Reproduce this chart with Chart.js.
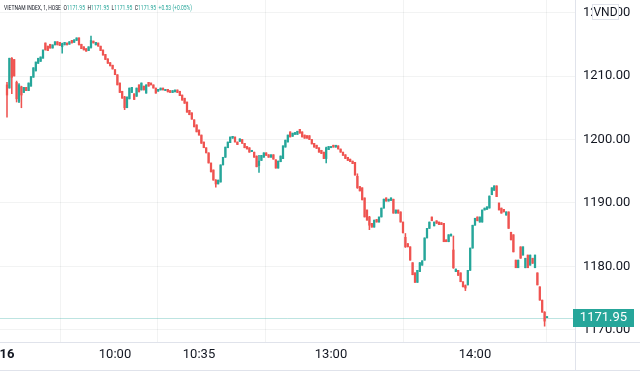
<!DOCTYPE html>
<html>
<head>
<meta charset="utf-8">
<script src="https://cdn.jsdelivr.net/npm/chart.js@4.4.1/dist/chart.umd.min.js"></script>
<style>
  html, body { margin: 0; padding: 0; background: #fff; }
  #wrap { width: 640px; height: 371px; position: relative; }
</style>
</head>
<body>
<div id="wrap"><canvas id="myChart"></canvas></div>
<script>
// trading sessions, one candle per minute
const sessions = [['09:15', '11:29'], ['13:00', '14:30']];

const opens = [
  1208.6, 1208.1, 1212.8, 1212.6, 1209.0, 1206.0, 1208.3, 1207.4, 1208.2, 1207.7,
  1208.4, 1209.8, 1210.8, 1212.0, 1212.3, 1212.8, 1215.2, 1214.7, 1215.0, 1214.4,
  1214.9, 1215.4, 1215.3, 1214.6, 1214.9, 1215.2, 1215.0, 1215.6, 1215.3, 1215.6,
  1216.0, 1215.0, 1214.6, 1214.3, 1214.0, 1214.5, 1215.5, 1214.9, 1215.2, 1214.7,
  1214.1, 1213.4, 1212.7, 1212.1, 1211.7, 1211.0, 1210.2, 1208.9, 1207.6, 1206.7,
  1205.0, 1206.4, 1207.4, 1207.2, 1206.8, 1208.6, 1207.8, 1208.4, 1207.3, 1209.0,
  1208.9, 1208.6, 1208.1, 1207.6, 1207.8, 1208.1, 1207.7, 1207.9, 1207.7, 1207.4,
  1207.5, 1207.8, 1207.6, 1207.0, 1206.5, 1205.9, 1204.6, 1204.2, 1203.1, 1202.3,
  1201.5, 1200.7, 1199.6, 1198.7, 1197.9, 1196.3, 1195.2, 1193.6, 1193.0, 1193.3,
  1196.0, 1197.2, 1198.7, 1199.5, 1200.2, 1200.4, 1199.6, 1199.7, 1200.0, 1199.4,
  1198.9, 1198.7, 1198.1, 1198.0, 1197.4, 1195.9, 1196.7, 1197.2, 1197.9, 1197.6,
  1197.2, 1197.6, 1196.8, 1195.5, 1196.5, 1197.0, 1198.8, 1199.6, 1201.2, 1200.5,
  1200.8, 1200.8, 1201.6, 1201.2, 1200.7, 1200.6, 1200.6, 1200.0, 1199.4, 1199.1,
  1198.7, 1198.3, 1198.0, 1197.0, 1198.4, 1198.7, 1199.1, 1198.8, 1199.0, 1198.5,
  1198.0, 1197.6, 1197.2, 1196.9, 1196.6, 1196.4, 1194.2, 1192.6, 1192.4, 1190.8,
  1188.9, 1187.8, 1186.8, 1186.2, 1187.4, 1187.0, 1187.8, 1189.2, 1190.8, 1190.3,
  1190.4, 1190.6, 1188.4, 1188.9, 1188.6, 1187.0, 1184.6, 1183.6, 1183.1, 1180.6,
  1179.0, 1177.5, 1179.2, 1180.2, 1181.0, 1184.5, 1186.0, 1187.8, 1186.4, 1187.2,
  1187.0, 1186.9, 1186.8, 1184.2, 1183.9, 1184.8, 1182.6, 1179.2, 1179.4, 1179.0,
  1177.6, 1177.0, 1177.1, 1179.4, 1182.9, 1186.5, 1187.8, 1187.0, 1187.0, 1188.9,
  1189.0, 1189.2, 1191.3, 1192.0, 1192.7, 1190.0, 1189.2, 1189.0, 1188.1, 1188.6,
  1185.4, 1185.0, 1181.0, 1179.8, 1183.1, 1181.8, 1179.8, 1181.8, 1180.2, 1181.3,
  1179.8, 1179.0, 1176.8, 1174.7, 1172.8, 1171.95
];

const closes = [
  1207.0, 1212.8, 1209.8, 1210.0, 1206.4, 1208.6, 1207.0, 1208.2, 1207.7, 1208.9,
  1209.9, 1211.3, 1212.2, 1212.8, 1213.0, 1214.1, 1214.1, 1214.0, 1214.4, 1214.9,
  1215.4, 1214.9, 1214.8, 1215.1, 1215.3, 1214.9, 1215.4, 1215.2, 1215.7, 1216.0,
  1214.9, 1214.3, 1214.1, 1213.9, 1214.6, 1215.6, 1215.2, 1215.3, 1214.7, 1214.0,
  1213.3, 1212.6, 1212.0, 1211.6, 1211.1, 1210.2, 1208.6, 1207.4, 1206.5, 1205.0,
  1206.7, 1208.1, 1208.2, 1206.3, 1208.1, 1207.5, 1208.9, 1207.8, 1208.6, 1208.4,
  1208.6, 1208.1, 1207.3, 1207.9, 1208.1, 1207.8, 1207.9, 1207.5, 1207.4, 1207.7,
  1207.8, 1207.4, 1206.9, 1206.2, 1205.7, 1204.3, 1203.9, 1203.2, 1202.0, 1201.2,
  1200.7, 1199.4, 1198.7, 1197.9, 1196.3, 1194.9, 1193.6, 1193.0, 1193.6, 1196.0,
  1197.2, 1198.8, 1199.6, 1200.4, 1200.5, 1199.6, 1199.2, 1200.1, 1199.4, 1198.7,
  1198.5, 1198.0, 1198.3, 1197.2, 1195.7, 1196.6, 1197.5, 1197.9, 1197.5, 1197.2,
  1197.6, 1196.9, 1195.5, 1196.6, 1197.4, 1199.0, 1199.9, 1200.7, 1200.4, 1201.0,
  1201.1, 1201.3, 1201.0, 1200.4, 1200.2, 1200.2, 1200.0, 1199.3, 1198.8, 1198.6,
  1198.0, 1197.8, 1197.0, 1198.7, 1198.9, 1198.9, 1198.8, 1199.1, 1198.5, 1198.0,
  1197.5, 1197.0, 1196.7, 1196.5, 1196.2, 1194.4, 1192.4, 1191.9, 1190.5, 1187.8,
  1187.3, 1186.5, 1186.2, 1187.3, 1187.0, 1187.8, 1189.2, 1190.6, 1190.3, 1190.6,
  1190.8, 1188.4, 1188.9, 1188.4, 1187.0, 1185.3, 1183.1, 1183.1, 1181.0, 1178.7,
  1177.5, 1179.4, 1180.6, 1180.9, 1184.5, 1186.0, 1187.0, 1187.2, 1187.0, 1186.8,
  1186.6, 1186.6, 1183.9, 1183.9, 1185.0, 1185.1, 1179.8, 1179.6, 1178.6, 1177.6,
  1176.8, 1176.6, 1179.4, 1182.9, 1186.5, 1187.6, 1187.2, 1187.8, 1188.9, 1189.2,
  1189.4, 1191.1, 1192.4, 1192.7, 1191.0, 1188.9, 1188.4, 1188.6, 1188.6, 1186.0,
  1184.2, 1182.3, 1179.8, 1181.0, 1181.3, 1183.1, 1181.3, 1179.8, 1181.8, 1180.5,
  1181.8, 1177.1, 1174.7, 1172.8, 1171.4, 1171.95
];

// candles with a visible shadow: [index, low, high]
const wicks = [
  [0, 1203.5, 1209.0], [2, 1207.2, 1212.9], [4, 1205.9, 1209.2], [5, 1205.8, 1208.8],
  [6, 1205.0, 1208.4], [23, 1213.6, 1215.2], [35, 1214.4, 1216.3], [49, 1204.7, 1206.8],
  [87, 1192.5, 1193.7], [105, 1194.8, 1197.5], [133, 1196.3, 1198.8], [146, 1192.3, 1194.6],
  [151, 1185.8, 1187.9], [166, 1183.0, 1185.2], [186, 1179.7, 1184.8], [191, 1176.2, 1177.1],
  [224, 1170.6, 1172.9]
];

const yTicks = [1170, 1180, 1190, 1200, 1210, 1220];
const tickTimes = ['09:15', '10:00', '10:35', '13:00', '14:00'];
const tickLabels = ['16', '10:00', '10:35', '13:00', '14:00'];
const lastPrice = 1171.95;
const headerParts = [
  ['VIETNAM INDEX, 1, HOSE  ', '#131722'],
  ['O', '#131722'], ['1171.95  ', '#26a69a'],
  ['H', '#131722'], ['1171.95  ', '#26a69a'],
  ['L', '#131722'], ['1171.95  ', '#26a69a'],
  ['C', '#131722'], ['1171.95  ', '#26a69a'],
  ['+0.53 (+0.05%)', '#26a69a']
];

const upColor = '#26a69a';
const downColor = '#ef5350';
const fontFamily = 'Roboto, "DejaVu Sans", sans-serif';

function toMinutes(t) {
    const [h, m] = t.split(':').map(Number);
    return h * 60 + m;
}

const times = [];
sessions.forEach(([from, to]) => {
    for (let m = toMinutes(from); m <= toMinutes(to); m++) {
        times.push(String(Math.floor(m / 60)).padStart(2, '0') + ':' + String(m % 60).padStart(2, '0'));
    }
});

const tickIndex = tickTimes.map(t => times.indexOf(t));

const lows = opens.map((o, i) => Math.min(o, closes[i]));
const highs = opens.map((o, i) => Math.max(o, closes[i]));
wicks.forEach(([i, lo, hi]) => { lows[i] = lo; highs[i] = hi; });

const colors = opens.map((o, i) => closes[i] >= o ? upColor : downColor);

const overlay = {
    id: 'overlay',
    beforeDatasetsDraw(chart) {
        const { ctx, chartArea } = chart;
        const y = Math.round(chart.scales.y.getPixelForValue(lastPrice)) + 0.5;
        ctx.save();
        ctx.strokeStyle = 'rgba(38,166,154,0.3)';
        ctx.lineWidth = 1;
        ctx.beginPath();
        ctx.moveTo(chartArea.left, y);
        ctx.lineTo(chartArea.right, y);
        ctx.stroke();
        ctx.restore();
    },
    afterDraw(chart) {
        const { ctx, chartArea } = chart;
        ctx.save();

        // pane separators
        ctx.strokeStyle = '#e0e3eb';
        ctx.lineWidth = 1;
        ctx.beginPath();
        ctx.moveTo(chartArea.right + 0.5, 0);
        ctx.lineTo(chartArea.right + 0.5, 371);
        ctx.moveTo(0, chartArea.bottom + 0.5);
        ctx.lineTo(640, chartArea.bottom + 0.5);
        ctx.moveTo(0, 370.5);
        ctx.lineTo(640, 370.5);
        ctx.stroke();

        // legend line
        ctx.font = '7px ' + fontFamily;
        ctx.textBaseline = 'middle';
        ctx.textAlign = 'left';
        const total = headerParts.reduce((w, p) => w + ctx.measureText(p[0]).width, 0);
        ctx.save();
        ctx.translate(4, 8);
        ctx.scale(188 / total, 1);
        let x = 0;
        headerParts.forEach(([text, color]) => {
            ctx.fillStyle = color;
            ctx.fillText(text, x, 0);
            x += ctx.measureText(text).width;
        });
        ctx.restore();

        // currency box
        ctx.fillStyle = '#ffffff';
        ctx.fillRect(592, 4, 27, 16);
        ctx.strokeStyle = '#e0e3eb';
        ctx.strokeRect(592.5, 4.5, 26, 15);
        ctx.fillStyle = '#131722';
        ctx.font = '12px ' + fontFamily;
        ctx.textAlign = 'center';
        ctx.fillText('VND', 605.5, 12.5);

        // last price label
        const py = chart.scales.y.getPixelForValue(lastPrice);
        ctx.fillStyle = '#26a69a';
        ctx.fillRect(573, Math.round(py) - 9, 61, 18);
        ctx.fillStyle = '#ffffff';
        ctx.font = '13px ' + fontFamily;
        ctx.fillText(lastPrice.toFixed(2), 603.5, py + 0.5);
        ctx.restore();
    }
};

const ctx = document.getElementById('myChart').getContext('2d');
const myChart = new Chart(ctx, {
    type: 'bar',
    data: {
        datasets: [{
            label: 'shadow',
            data: opens.map((o, i) => ({ x: i, y: [lows[i], highs[i]] })),
            backgroundColor: colors,
            barThickness: 0.9,
            minBarLength: 1,
            grouped: false,
            order: 2
        }, {
            label: 'body',
            data: opens.map((o, i) => ({ x: i, y: [o, closes[i]] })),
            backgroundColor: colors,
            barThickness: 1.6,
            minBarLength: 1,
            grouped: false,
            order: 1
        }]
    },
    options: {
        responsive: true,
        maintainAspectRatio: false,
        animation: false,
        layout: { padding: 0 },
        plugins: {
            legend: { display: false },
            tooltip: { enabled: false }
        },
        scales: {
            x: {
                type: 'linear',
                offset: false,
                min: -7 / 2.4,
                max: 568 / 2.4,
                afterBuildTicks: scale => { scale.ticks = tickIndex.map(v => ({ value: v })); },
                afterFit: scale => {
                    scale.height = 29;
                    scale.paddingLeft = 0;
                    scale.paddingRight = 0;
                },
                grid: { color: 'rgba(42,46,57,0.06)', drawTicks: false },
                border: { display: false },
                ticks: {
                    autoSkip: false,
                    maxRotation: 0,
                    padding: 5,
                    color: '#131722',
                    font: c => ({
                        family: fontFamily,
                        size: 13,
                        weight: c.tick && c.tick.value === tickIndex[0] ? 'bold' : 'normal'
                    }),
                    callback: v => tickLabels[tickIndex.indexOf(v)]
                }
            },
            y: {
                position: 'right',
                min: 1210 - 266 / 6.35,
                max: 1210 + 76 / 6.35,
                afterBuildTicks: scale => { scale.ticks = yTicks.map(v => ({ value: v })); },
                afterFit: scale => {
                    scale.width = 65;
                    scale.paddingTop = 0;
                    scale.paddingBottom = 0;
                },
                grid: { color: 'rgba(42,46,57,0.06)', drawTicks: false },
                border: { display: false },
                ticks: {
                    padding: 8,
                    color: '#131722',
                    font: { family: fontFamily, size: 13 },
                    callback: v => v.toFixed(2)
                }
            }
        }
    },
    plugins: [overlay]
});
</script>
</body>
</html>
